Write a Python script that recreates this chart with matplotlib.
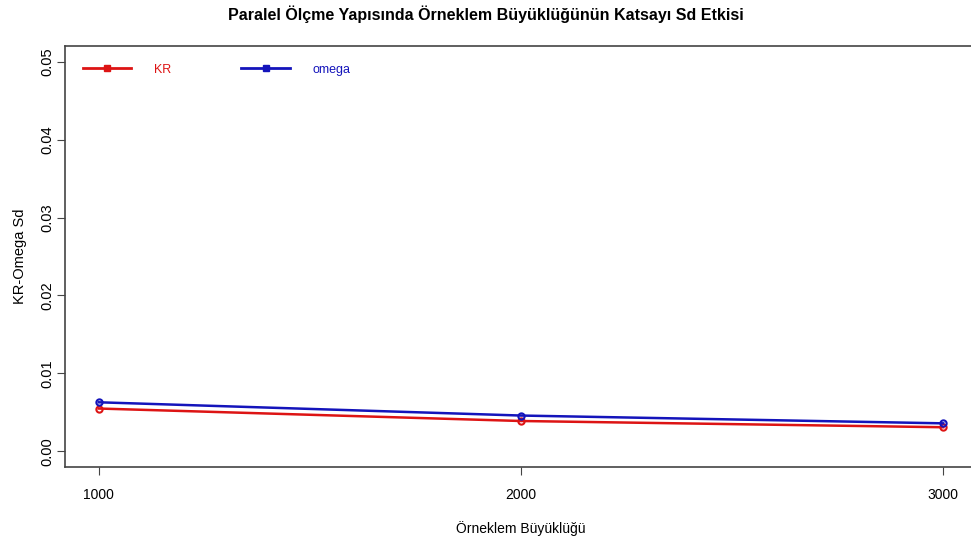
import matplotlib
matplotlib.use("Agg")
import matplotlib.pyplot as plt
from matplotlib.lines import Line2D

# sample sizes and coefficient sd values
orneklem = [1000, 2000, 3000]
kr_sd = [0.0055, 0.0039, 0.0031]
omega_sd = [0.0063, 0.0046, 0.0036]
y_ticks = [0.00, 0.01, 0.02, 0.03, 0.04, 0.05]
x_ticks = [1000, 2000, 3000]

kr_renk = "#dd1414"
omega_renk = "#1414bb"
yazi = ["Liberation Sans", "DejaVu Sans"]

fig = plt.figure(figsize=(9.71, 5.45), dpi=100)
W, H = 971, 545
# plot region in pixels (left, top, right, bottom)
l, t, r, b = 65, 46, 977, 467
ax = fig.add_axes([l / W, 1 - b / H, (r - l) / W, (b - t) / H])

ax.plot(orneklem, kr_sd, color=kr_renk, lw=1.8, marker="o", ms=4.5,
        mfc="none", mew=1.5)
ax.plot(orneklem, omega_sd, color=omega_renk, lw=1.8, marker="o", ms=4.5,
        mfc="none", mew=1.5)

ax.set_xlim(920, 3080)
ax.set_ylim(-0.002, 0.052)

ax.set_xticks(x_ticks)
ax.set_xticklabels([str(v) for v in x_ticks], family=yazi, fontsize=10)
ax.set_yticks(y_ticks)
ax.set_yticklabels([f"{v:.2f}" for v in y_ticks], family=yazi,
                   fontsize=10.5, rotation=90, va="center")
ax.tick_params(direction="out", length=6, width=0.8, color="#444444")
ax.tick_params(axis="x", pad=9)
ax.tick_params(axis="y", pad=2)

for s in ax.spines.values():
    s.set_color("#444444")
    s.set_linewidth(1.2)
ax.spines["right"].set_visible(False)

ax.set_xlabel("Örneklem Büyüklüğü", family=yazi, fontsize=10, labelpad=14)
ax.set_ylabel("KR-Omega Sd", family=yazi, fontsize=10.5, labelpad=9)
fig.text(0.5, 1 - 14 / H, "Paralel Ölçme Yapısında Örneklem Büyüklüğünün Katsayı Sd Etkisi",
         ha="center", va="center", family=yazi, fontsize=11.5, fontweight="bold")

handles = [
    Line2D([], [], color=kr_renk, lw=2, marker="s", ms=4),
    Line2D([], [], color=omega_renk, lw=2, marker="s", ms=4),
]
leg = ax.legend(handles, ["KR", "omega"], ncol=2, loc="upper left",
                bbox_to_anchor=(0.007, 0.985), frameon=False, handlelength=3.9,
                handletextpad=1.8, columnspacing=5.6,
                prop={"family": yazi, "size": 9})
for txt, c in zip(leg.get_texts(), [kr_renk, omega_renk]):
    txt.set_color(c)

fig.savefig("out.png", dpi=100, facecolor="white")
